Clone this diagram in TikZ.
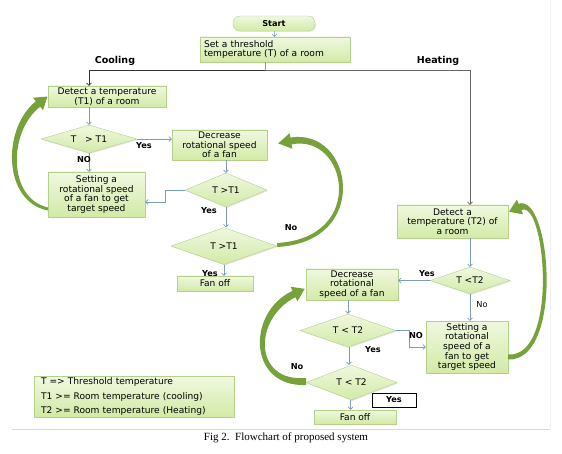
\documentclass[tikz,border=0pt]{standalone}
\usepackage{fontspec}
\setmainfont{Liberation Serif}
\setsansfont{DejaVu Sans}
\usetikzlibrary{shapes.geometric, arrows.meta, shadows, calc}
\definecolor{boxtop}{HTML}{F0F8E0}
\definecolor{boxbot}{HTML}{D2EAA6}
\definecolor{boxline}{HTML}{B5D08A}
\definecolor{flow}{HTML}{7B9CBA}
\definecolor{leaf}{HTML}{77A23B}

\begin{document}
\begin{tikzpicture}[x=1pt, y=-1pt,
    box/.style={draw=boxline, top color=boxtop, bottom color=boxbot, align=center, inner sep=0.5pt,
        font=\sffamily\fontsize{9.1}{9.6}\selectfont,
        drop shadow={shadow xshift=1pt, shadow yshift=-1pt, opacity=0.2}},
    test/.style={box, diamond, shape aspect=3, inner sep=0pt},
    arr/.style={draw=flow, line width=0.6pt, -{Straight Barb[length=2.5pt, width=5pt]}},
    lbl/.style={font=\sffamily\bfseries\fontsize{8.2}{9}\selectfont}]
    \useasboundingbox (0,0) rectangle (562,454);
    % START AND THRESHOLD
    \node[box, rounded corners=7pt, minimum width=82pt, minimum height=15pt, font=\sffamily\bfseries\fontsize{8.2}{9}\selectfont] (start) at (274,23.5) {Start};
    \node[box, align=left, text width=142pt, minimum width=150pt, minimum height=25pt] (thresh) at (275,49.5) {Set a threshold\\temperature (T) of a room};
    \coordinate (split) at (265,70);
    \node[lbl, font=\sffamily\bfseries\fontsize{9.5}{10}\selectfont] (cool) at (115,61) {Cooling};
    \node[lbl, font=\sffamily\bfseries\fontsize{9.5}{10}\selectfont] (heat) at (438,61) {Heating};
    % COOLING
    \node[box, minimum width=118pt, minimum height=21pt] (detA) at (107,96.5) {Detect a temperature\\(T1) of a room};
    \node[test, minimum width=96pt, minimum height=28pt] (chkA) at (89,139) {T\ \ \ > T1};
    \node[box, minimum width=97pt, minimum height=45pt] (setA) at (96.5,194.5) {Setting a\\rotational speed\\of a fan to get\\target speed};
    \node[box, minimum width=95pt, minimum height=30pt] (decA) at (219.5,145) {Decrease\\rotational speed\\of a fan};
    \node[test, minimum width=82pt, minimum height=34pt] (chkB) at (226,190) {T >T1};
    \node[test, minimum width=106pt, minimum height=37pt] (chkC) at (224,246) {T >T1};
    \node[box, minimum width=76pt, minimum height=15pt] (offA) at (215,283.5) {Fan off};
    % HEATING
    \node[box, minimum width=111pt, minimum height=33pt] (detB) at (452.5,221.5) {Detect a\\temperature (T2) of\\a room};
    \node[test, minimum width=80pt, minimum height=27pt] (chkD) at (470,280.5) {T <T2};
    \node[box, minimum width=92pt, minimum height=31pt] (decB) at (352,284.5) {Decrease\\rotational\\speed of a fan};
    \node[box, minimum width=82pt, minimum height=52pt] (setB) at (467,347) {Setting a\\rotational\\speed of a\\fan to get\\target speed};
    \node[test, minimum width=96pt, minimum height=33pt] (chkE) at (348,330.5) {T < T2};
    \node[test, minimum width=91pt, minimum height=35pt] (chkF) at (351.5,382.5) {T < T2};
    \node[box, minimum width=82pt, minimum height=14pt] (offB) at (355,417) {Fan off};
    \node[lbl, draw=black, line width=0.5pt, fill=white, minimum width=44pt, minimum height=14pt, inner sep=0pt] (yesbox) at (394,400) {Yes};
    % LEGEND
    \node[box, align=left, minimum width=200pt, minimum height=41pt, inner sep=0pt, text width=186pt] (legend) at (134,396.5)
        {T => Threshold temperature\\[5pt]T1 >= Room temperature (cooling)\\[5pt]T2 >= Room temperature (Heating)};
    % CONNECTORS
    \draw[arr] (start) -- (thresh);
    \draw[draw=flow, line width=0.6pt] (thresh.south -| split) -- (split);
    \draw[arr, draw=black!80] (split) -| (detA.north -| chkA);
    \draw[arr, draw=black!60] (split) -| (detB.north -| chkD);
    \draw[arr] (detA.south -| chkA) -- (chkA.north);
    \draw[arr] (chkA.east) -- (chkA.east -| decA.west);
    \draw[arr] (chkA.south) -- (setA.north -| chkA);
    \draw[arr] (decA.south -| chkB) -- (chkB.north);
    \draw[arr] (chkB.west) -- ++(-20,0) |- ([yshift=-7.5pt]setA.east);
    \draw[arr] (chkB.south) -- (chkB.south |- chkC.north);
    \draw[arr] (chkC.south) -- (chkC.south |- offA.north);
    \draw[arr] (detB.south -| chkD) -- (chkD.north);
    \draw[arr] (chkD.west) -- (chkD.west -| decB.east);
    \draw[arr] (chkD.south) -- (setB.north -| chkD);
    \draw[arr] (decB.south -| chkE) -- (chkE.north);
    \draw[arr] (chkE.east) -- ++(13,0) |- (setB.west);
    \draw[arr] ([xshift=1pt]chkE.south) -- ([xshift=1pt]chkE.south |- chkF.north);
    \draw[arr] ([xshift=-1pt]chkF.south) -- ([xshift=-1pt]chkF.south |- offB.north);
    % LABELS
    \node[lbl] (yA) at (144,146) {Yes};
    \node[lbl] (nA) at (84,160) {NO};
    \node[lbl] (yB) at (209,211) {Yes};
    \node[lbl] (yC) at (210,274) {Yes};
    \node[lbl] (nC) at (291,228) {No};
    \node[lbl] (yD) at (427,274) {Yes};
    \node[font=\sffamily\fontsize{8.2}{9}\selectfont] (nD) at (482,305) {No};
    \node[lbl] (nE) at (416,336) {NO};
    \node[lbl] (yE) at (373,350) {Yes};
    \node[lbl] (nF) at (297,367) {No};
    % LOOP ARROWS
    \fill[leaf] (48,210.5) .. controls (3,202) and (1.5,129) .. (35.8,101.3) -- (33,97.7) -- (47.4,96.6) -- (43,110.3) -- (40.2,106.7) .. controls (8.5,131) and (7,198) .. (48,207.5) -- cycle;
    \fill[leaf] (277,247) .. controls (372.5,242) and (353,127) .. (290.4,137.6) -- (289.6,133.2) -- (278.2,143.4) -- (292.4,148.8) -- (291.6,144.4) .. controls (347,133) and (367.5,238) .. (277,243) -- cycle;
    \fill[leaf] (508,359.5) .. controls (564.5,362) and (551,192) .. (518.6,203.8) -- (516.9,199.6) -- (509,211.7) -- (523.1,214.4) -- (521.4,210.2) .. controls (545,198) and (559.5,358) .. (508,354.5) -- cycle;
    \fill[leaf] (306,385) .. controls (247.5,387.5) and (246.5,312) .. (292.5,290.9) -- (290.6,286.8) -- (304.8,288.8) -- (297.4,301.2) -- (295.5,297.2) .. controls (253.5,318) and (252.5,382.5) .. (306,378) -- cycle;
    % CAPTION
    \draw[black!15] (12,429) -- (550,429);
    \draw[black!6] (550,0) -- (550,429);
    \node[font=\fontsize{11}{12}\selectfont] (cap) at (286,438) {Fig 2.\ \ Flowchart of proposed system};
\end{tikzpicture}
\end{document}
